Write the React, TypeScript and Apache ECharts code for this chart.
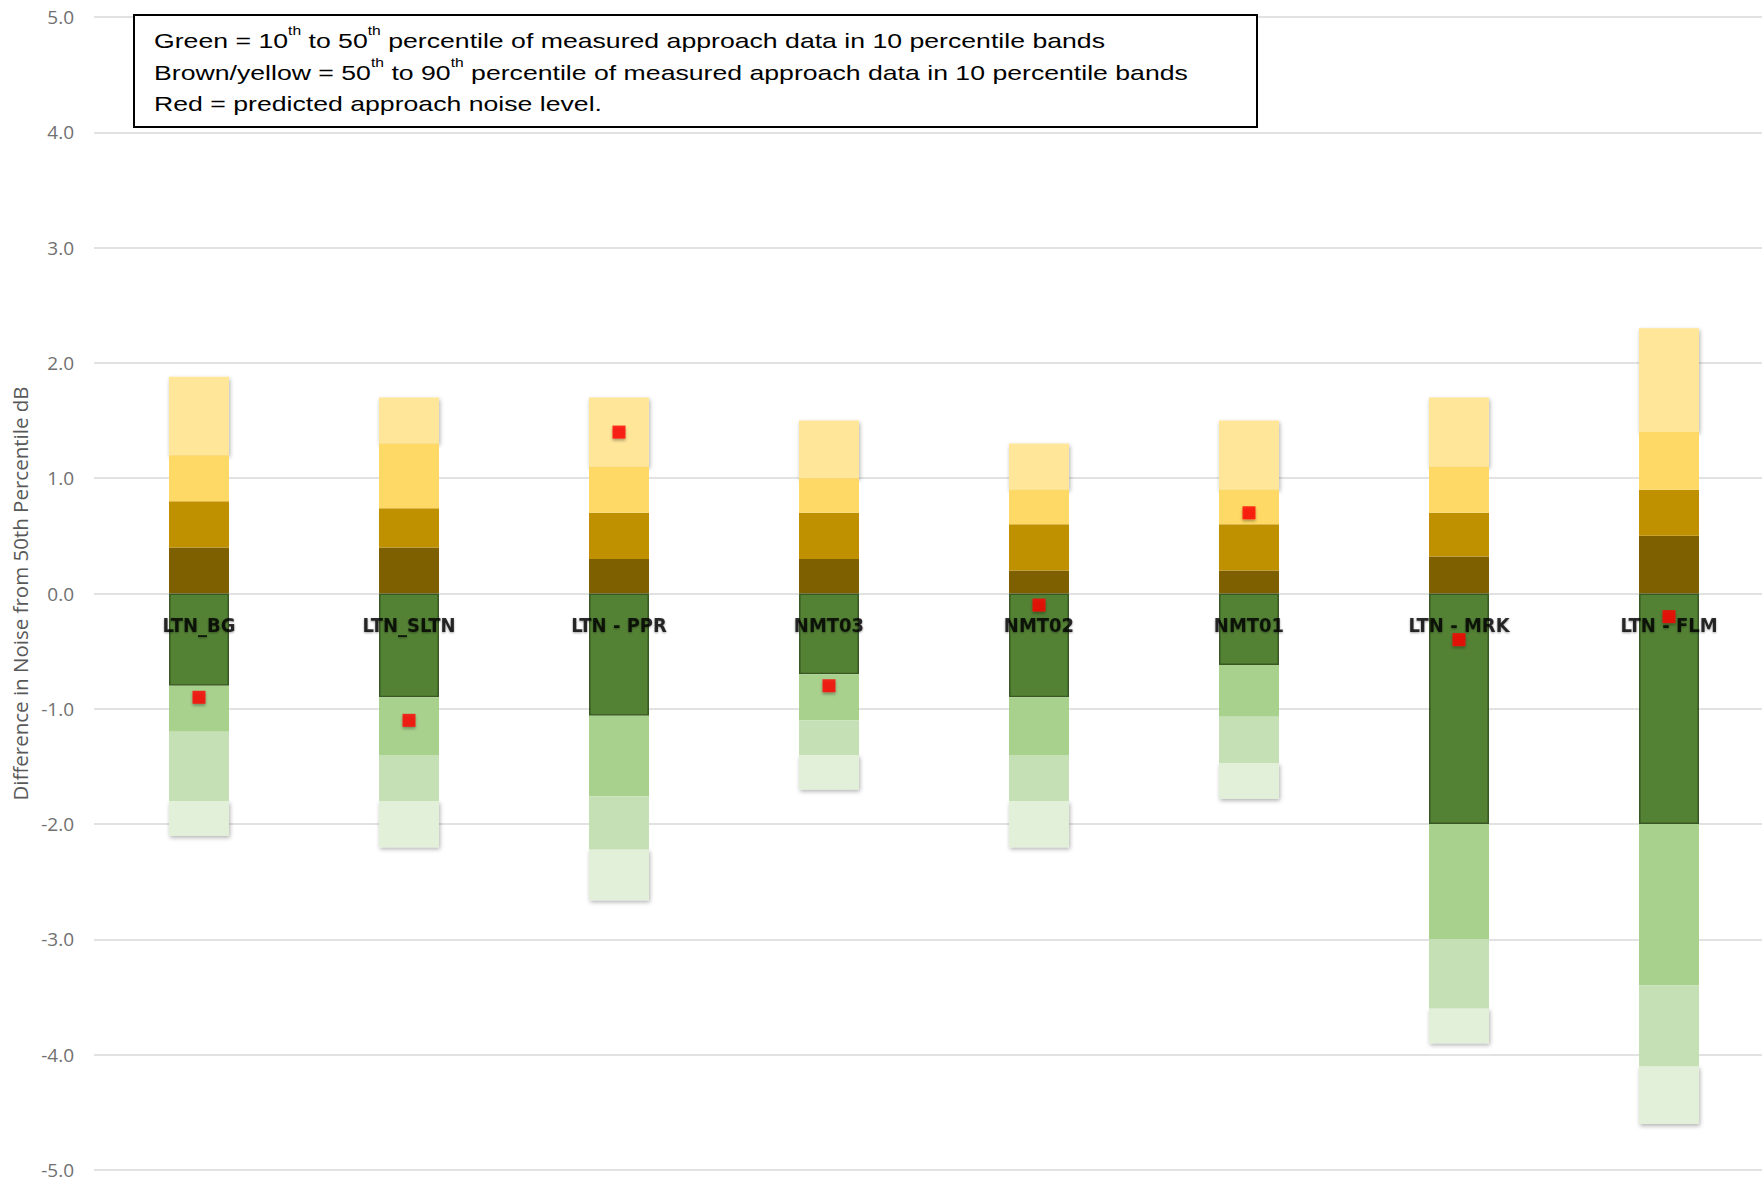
import React, { useEffect, useRef } from "react";
import * as echarts from "echarts";

const categories = ["LTN_BG", "LTN_SLTN", "LTN - PPR", "NMT03", "NMT02", "NMT01", "LTN - MRK", "LTN - FLM"];
// Percentile levels relative to the 50th percentile (dB)
const p90 = [1.88, 1.7, 1.7, 1.5, 1.3, 1.5, 1.7, 2.3];
const p80 = [1.2, 1.3, 1.1, 1.0, 0.9, 0.9, 1.1, 1.4];
const p70 = [0.8, 0.74, 0.7, 0.7, 0.6, 0.6, 0.7, 0.9];
const p60 = [0.4, 0.4, 0.3, 0.3, 0.2, 0.2, 0.32, 0.5];
const p40 = [-0.8, -0.9, -1.06, -0.7, -0.9, -0.62, -2.0, -2.0];
const p30 = [-1.2, -1.4, -1.76, -1.1, -1.4, -1.07, -3.0, -3.4];
const p20 = [-1.8, -1.8, -2.22, -1.4, -1.8, -1.47, -3.6, -4.1];
const p10 = [-2.1, -2.2, -2.66, -1.7, -2.2, -1.78, -3.9, -4.6];
const predicted = [-0.9, -1.1, 1.4, -0.8, -0.1, 0.7, -0.4, -0.2];

const yMin = -5;
const yMax = 5;
const yInterval = 1;

const legendLines = [
  "Green = 10{sup|th} to 50{sup|th} percentile of measured approach data in 10 percentile bands",
  "Brown/yellow = 50{sup|th} to 90{sup|th} percentile of measured approach data in 10 percentile bands",
  "Red = predicted approach noise level.",
];

const diff = (a: number[], b: number[]) => a.map((v, i) => +(v - b[i]).toFixed(3));

export default function App() {
  const ref = useRef<HTMLDivElement>(null);
  useEffect(() => {
    if (!ref.current) return;
    const chart = echarts.init(ref.current, null, { renderer: "svg" });

    const segments = [
      { name: "50-60", data: p60, color: "#7F6000" },
      { name: "60-70", data: diff(p70, p60), color: "#BF9000" },
      { name: "70-80", data: diff(p80, p70), color: "#FFD966" },
      { name: "80-90", data: diff(p90, p80), color: "#FFE699", shadow: true },
      { name: "40-50", data: p40, color: "#548235", border: "#385723" },
      { name: "30-40", data: diff(p30, p40), color: "#A9D18E" },
      { name: "20-30", data: diff(p20, p30), color: "#C5E0B4" },
      { name: "10-20", data: diff(p10, p20), color: "#E2F0D9", shadow: true },
    ];

    const barSeries = segments.map((s) => ({
      type: "bar",
      name: s.name,
      stack: "total",
      barWidth: 60,
      data: s.data,
      z: s.shadow ? 1 : 2,
      itemStyle: {
        color: s.color,
        borderColor: s.border || undefined,
        borderWidth: s.border ? 1.5 : 0,
        shadowBlur: s.shadow ? 4 : 0,
        shadowColor: s.shadow ? "rgba(0,0,0,0.3)" : "transparent",
        shadowOffsetX: s.shadow ? 1 : 0,
        shadowOffsetY: s.shadow ? 2 : 0,
      },
    }));

    chart.setOption({
      animation: false,
      backgroundColor: "#ffffff",
      grid: {
        left: 94,
        right: -12,
        top: 17,
        bottom: 12,
        containLabel: false,
        outerBoundsMode: "none",
      },
      xAxis: {
        type: "category",
        data: categories,
        axisLine: { show: false },
        axisTick: { show: false },
        axisLabel: { show: false },
        splitLine: { show: false },
      },
      yAxis: {
        type: "value",
        min: yMin,
        max: yMax,
        interval: yInterval,
        axisLine: { show: false },
        axisTick: { show: false },
        axisLabel: {
          formatter: (v: number) => v.toFixed(1),
          color: "#707070",
          fontSize: 19,
          lineHeight: 19,
          margin: 20,
          fontFamily: "'Open Sans', 'Noto Sans', sans-serif",
        },
        splitLine: { lineStyle: { color: "#D9D9D9", width: 1.5 } },
        name: "Difference in Noise from 50th Percentile dB",
        nameLocation: "middle",
        nameGap: 63,
        nameTextStyle: {
          color: "#595959",
          fontSize: 20.5,
          fontFamily: "'Open Sans', 'Noto Sans', sans-serif",
        },
      },
      series: [
        ...barSeries,
        {
          // category labels sitting on the zero line (axis crosses at 0)
          type: "scatter",
          name: "Category labels",
          data: categories.map((c) => [c, 0]),
          symbolSize: 0,
          silent: true,
          z: 15,
          itemStyle: { color: "rgba(0,0,0,0)" },
          label: {
            show: true,
            position: "bottom",
            distance: 21,
            formatter: (p: any) => p.name || p.data[0],
            fontSize: 20,
            fontWeight: 900,
            color: "#000000",
            fontFamily: "'Liberation Sans Narrow', 'DejaVu Sans Condensed', 'Liberation Sans', sans-serif",
            textShadowColor: "rgba(0,0,0,0.45)",
            textShadowBlur: 2,
            textShadowOffsetY: 1,
          },
        },
        {
          type: "scatter",
          name: "Predicted",
          data: predicted,
          symbol: "rect",
          symbolSize: 13,
          z: 20,
          itemStyle: {
            color: "#FF0000",
            shadowBlur: 3,
            shadowColor: "rgba(0,0,0,0.4)",
            shadowOffsetY: 2,
          },
        },
      ],
      graphic: [
        {
          type: "rect",
          x: 134,
          y: 15,
          shape: { x: 0, y: 0, width: 1123, height: 112 },
          style: { fill: "#ffffff", stroke: "#000000", lineWidth: 2 },
          z: 30,
        },
        {
          type: "text",
          x: 154,
          y: 25,
          scaleX: 1.3,
          z: 31,
          style: {
            text: legendLines.join("\n"),
            fill: "#000000",
            fontSize: 20.5,
            lineHeight: 31.5,
            verticalAlign: "top",
            align: "left",
            fontFamily: "'Liberation Sans', Arial, sans-serif",
            rich: {
              sup: {
                fontSize: 12,
                verticalAlign: "top",
                fill: "#000000",
                fontFamily: "'Liberation Sans', Arial, sans-serif",
              },
            },
          },
        },
      ],
    });
    return () => chart.dispose();
  }, []);
  return (
    <div
      ref={ref}
      style={{ position: "fixed", left: 0, top: 0, width: 1762, height: 1182, background: "#fff" }}
    />
  );
}
